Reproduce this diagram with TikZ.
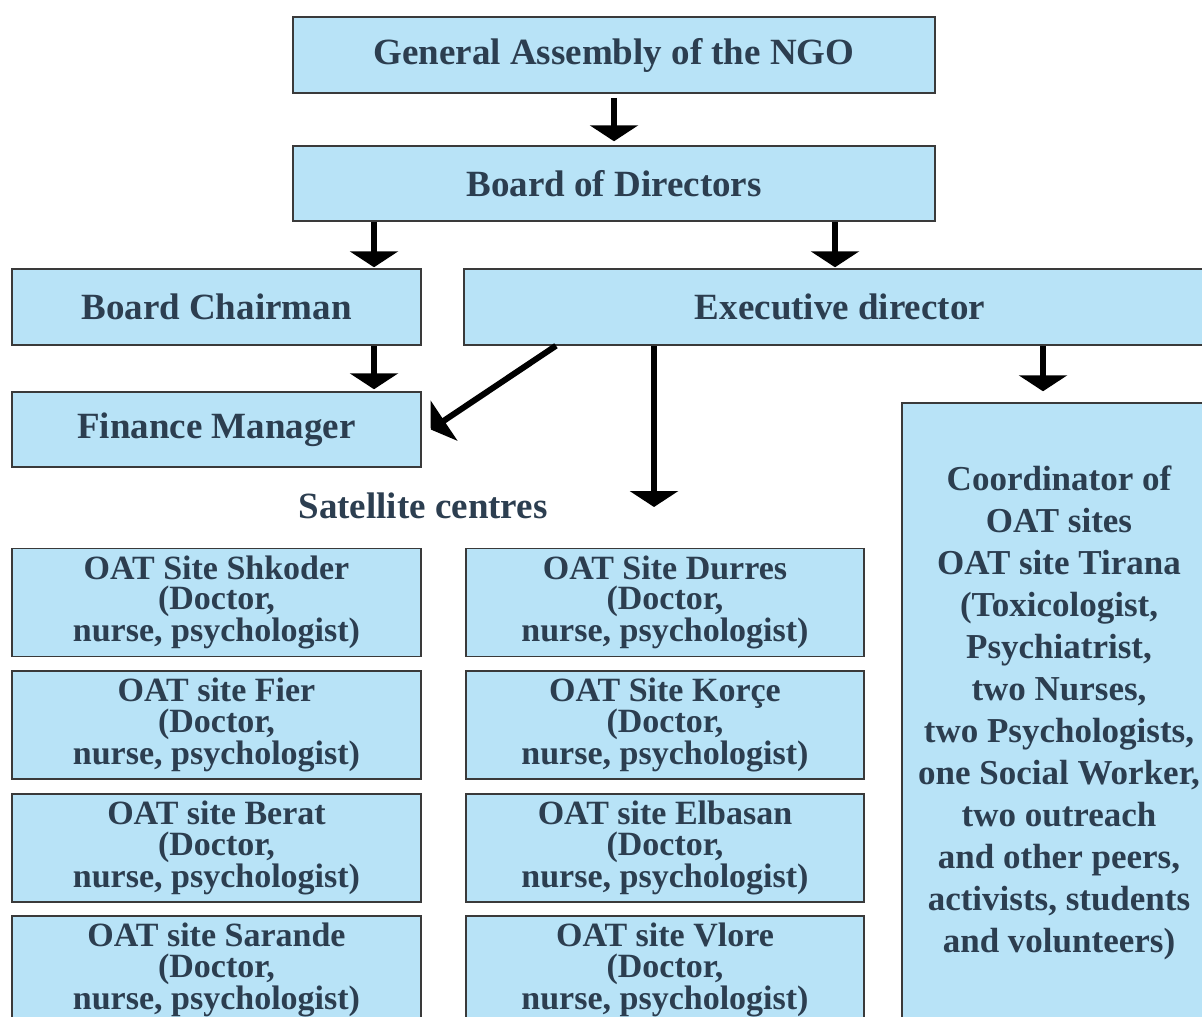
\documentclass[tikz,border=0pt]{standalone}
\usepackage{fontspec}
\setmainfont{Liberation Serif}
\usetikzlibrary{arrows.meta}
\definecolor{boxfill}{HTML}{B8E3F7}
\definecolor{boxtext}{HTML}{2C3E50}
\definecolor{boxline}{HTML}{3A3A3A}
\begin{document}
\begin{tikzpicture}[x=1pt,y=-1pt,
  box/.style={draw=boxline, line width=1.5pt, fill=boxfill, text=boxtext, inner sep=0pt,
    font=\bfseries\fontsize{37}{42}\selectfont, align=center},
  sitebox/.style={box, font=\bfseries\fontsize{34}{30.5}\selectfont, minimum height=108pt},
  leftsite/.style={sitebox, minimum width=409pt},
  rightsite/.style={sitebox, minimum width=398pt},
  arr/.style={line width=6pt, -{Triangle[width=48pt,length=16pt]}}]
\useasboundingbox (0,0) rectangle (1202,1017);
\clip (0,0) rectangle (1202,1017);
% top boxes
\node[box, minimum width=642pt, minimum height=76pt] (ga) at (614,55) {General Assembly of the NGO};
\node[box, minimum width=642pt, minimum height=75pt] (bod) at (614,183.5) {Board of Directors};
\node[box, minimum width=409pt, minimum height=76pt] (chair) at (216.5,307) {Board Chairman};
\node[box, minimum width=752pt, minimum height=76pt] (exec) at (840,307) {Executive director};
\node[box, minimum width=409pt, minimum height=75pt] (fin) at (216.5,429.5) {Finance Manager};
\node[box, minimum width=314pt, minimum height=620pt, font=\bfseries\fontsize{35}{42}\selectfont] (coord) at (1059,713)
  {Coordinator of\\OAT sites\\OAT site Tirana\\(Toxicologist,\\Psychiatrist,\\two Nurses,\\two Psychologists,\\one Social Worker,\\two outreach\\and other peers,\\activists, students\\and volunteers)};
\node[text=boxtext, font=\bfseries\fontsize{37}{42}\selectfont, inner sep=0pt] (sat) at (423,506) {Satellite centres};
% site boxes
\node[leftsite] (shk) at (216.5,602.5) {OAT Site Shkoder\\(Doctor,\\nurse, psychologist)};
\node[leftsite] (fie) at (216.5,725) {OAT site Fier\\(Doctor,\\nurse, psychologist)};
\node[leftsite] (ber) at (216.5,848) {OAT site Berat\\(Doctor,\\nurse, psychologist)};
\node[leftsite] (sar) at (216.5,970) {OAT site Sarande\\(Doctor,\\nurse, psychologist)};
\node[rightsite] (dur) at (665,602.5) {OAT Site Durres\\(Doctor,\\nurse, psychologist)};
\node[rightsite] (kor) at (665,725) {OAT Site Korçe\\(Doctor,\\nurse, psychologist)};
\node[rightsite] (elb) at (665,848) {OAT site Elbasan\\(Doctor,\\nurse, psychologist)};
\node[rightsite] (vlo) at (665,970) {OAT site Vlore\\(Doctor,\\nurse, psychologist)};
% arrow guide coordinates
\coordinate (xa) at (374,0);
\coordinate (xb) at (835,0);
\coordinate (xc) at (654,0);
\coordinate (xd) at (1043,0);
\coordinate (xe) at (556,0);
\coordinate (satend) at (654,507);
% arrows
\draw[arr] ([yshift=-4pt]ga.south) -- ([yshift=4pt]bod.north);
\draw[arr, shorten >=1pt] (bod.south -| xa) -- (chair.north -| xa);
\draw[arr, shorten >=1pt] (bod.south -| xb) -- (exec.north -| xb);
\draw[arr, shorten >=2pt] (chair.south -| xa) -- (fin.north -| xa);
\draw[arr, shorten >=11pt] (exec.south -| xd) -- (coord.north -| xd);
\draw[arr] (exec.south -| xc) -- (satend);
\draw[arr] (exec.south -| xe) -- ([xshift=9pt]fin.east);
\end{tikzpicture}
\end{document}
